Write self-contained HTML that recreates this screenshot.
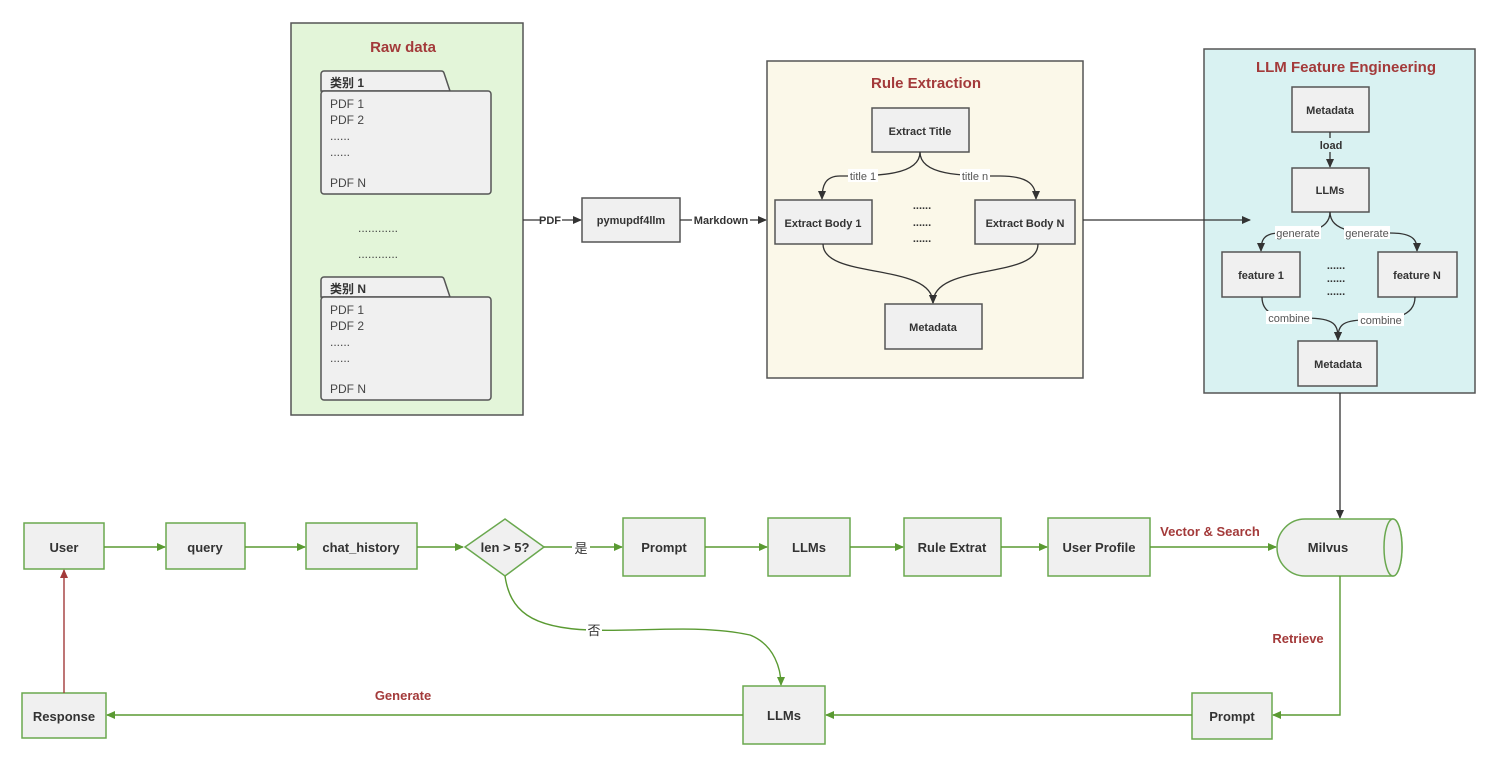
<!DOCTYPE html>
<html><head><meta charset="utf-8"><style>
html,body{margin:0;padding:0;background:#fff;}
svg{display:block;font-family:"Liberation Sans","Noto Sans CJK SC",sans-serif;}
.b{fill:#f0f0f0;stroke:#555;stroke-width:1.5}
.g{fill:#f0f0f0;stroke:#6aa84f;stroke-width:1.5}
.t{font-size:11px;font-weight:bold;fill:#333;text-anchor:middle}
.tg{font-size:13px;font-weight:bold;fill:#333;text-anchor:middle}
.h{font-size:15px;font-weight:bold;fill:#a33a3a;text-anchor:middle}
.r{font-size:13px;font-weight:bold;fill:#a33a3a;text-anchor:middle}
.l{font-size:11px;fill:#555;text-anchor:middle}
.k{stroke:#333;stroke-width:1.3;fill:none}
.gl{stroke:#5a9a32;stroke-width:1.4;fill:none}
.p{font-size:12px;fill:#444}
</style></head><body>
<svg width="1506" height="767" viewBox="0 0 1506 767">
<defs>
<marker id="ak" markerWidth="10" markerHeight="10" refX="8" refY="4" orient="auto" markerUnits="userSpaceOnUse"><path d="M0,0 L9,4 L0,8 z" fill="#333"/></marker>
<marker id="ag" markerWidth="10" markerHeight="10" refX="8" refY="4" orient="auto" markerUnits="userSpaceOnUse"><path d="M0,0 L9,4 L0,8 z" fill="#5a9a32"/></marker>
<marker id="ar" markerWidth="10" markerHeight="10" refX="8" refY="4" orient="auto" markerUnits="userSpaceOnUse"><path d="M0,0 L9,4 L0,8 z" fill="#a33a3a"/></marker>
</defs>

<!-- Raw data -->
<rect x="291" y="23" width="232" height="392" fill="#e3f5d9" stroke="#555" stroke-width="1.5"/>
<text x="403" y="52" class="h">Raw data</text>
<path d="M321,91 V74 a3,3 0 0 1 3,-3 H441 a3,3 0 0 1 3,2 L450,91 Z" class="b"/>
<rect x="321" y="91" width="170" height="103" rx="3" class="b"/>
<text x="330" y="87" font-size="12" font-weight="bold" fill="#333">类别 1</text>
<text class="p"><tspan x="330" y="108">PDF 1</tspan><tspan x="330" y="124">PDF 2</tspan><tspan x="330" y="140">......</tspan><tspan x="330" y="156">......</tspan><tspan x="330" y="187">PDF N</tspan></text>
<text x="378" y="232" font-size="12" fill="#444" text-anchor="middle">............</text>
<text x="378" y="258" font-size="12" fill="#444" text-anchor="middle">............</text>
<path d="M321,297 V280 a3,3 0 0 1 3,-3 H441 a3,3 0 0 1 3,2 L450,297 Z" class="b"/>
<rect x="321" y="297" width="170" height="103" rx="3" class="b"/>
<text x="330" y="293" font-size="12" font-weight="bold" fill="#333">类别 N</text>
<text class="p"><tspan x="330" y="314">PDF 1</tspan><tspan x="330" y="330">PDF 2</tspan><tspan x="330" y="346">......</tspan><tspan x="330" y="362">......</tspan><tspan x="330" y="393">PDF N</tspan></text>

<line x1="523" y1="220" x2="581" y2="220" class="k" marker-end="url(#ak)"/>
<rect x="540" y="213" width="22" height="14" fill="#fff"/>
<text x="550" y="224" class="t">PDF</text>
<rect x="582" y="198" width="98" height="44" class="b"/>
<text x="631" y="224" class="t">pymupdf4llm</text>
<line x1="680" y1="220" x2="766" y2="220" class="k" marker-end="url(#ak)"/>
<rect x="692" y="213" width="58" height="14" fill="#fff"/>
<text x="721" y="224" class="t">Markdown</text>

<!-- Rule Extraction -->
<rect x="767" y="61" width="316" height="317" fill="#fbf8e9" stroke="#555" stroke-width="1.5"/>
<text x="926" y="88" class="h">Rule Extraction</text>
<rect x="872" y="108" width="97" height="44" class="b"/>
<text x="920" y="135" class="t">Extract Title</text>
<path d="M920,152 C920,175 880,176 840,176 C825,176 822,186 822,199" class="k" marker-end="url(#ak)"/>
<path d="M920,152 C920,175 960,176 1000,176 C1030,176 1036,186 1036,199" class="k" marker-end="url(#ak)"/>
<rect x="848" y="169" width="30" height="13" fill="#fff"/><text x="863" y="180" class="l">title 1</text>
<rect x="960" y="169" width="30" height="13" fill="#fff"/><text x="975" y="180" class="l">title n</text>
<rect x="775" y="200" width="97" height="44" class="b"/>
<text x="823" y="227" class="t">Extract Body 1</text>
<rect x="975" y="200" width="100" height="44" class="b"/>
<text x="1025" y="227" class="t">Extract Body N</text>
<text x="922" y="209" class="t">......</text>
<text x="922" y="226" class="t">......</text>
<text x="922" y="242" class="t">......</text>
<path d="M823,244 C823,280 933,262 933,303" class="k" marker-end="url(#ak)"/>
<path d="M1038,244 C1038,280 933,262 933,303" class="k" marker-end="url(#ak)"/>
<rect x="885" y="304" width="97" height="45" class="b"/>
<text x="933" y="331" class="t">Metadata</text>

<!-- LLM FE -->
<rect x="1204" y="49" width="271" height="344" fill="#d9f2f2" stroke="#555" stroke-width="1.5"/>
<text x="1346" y="72" class="h">LLM Feature Engineering</text>
<line x1="1083" y1="220" x2="1250" y2="220" class="k" marker-end="url(#ak)"/>
<rect x="1292" y="87" width="77" height="45" class="b"/>
<text x="1330" y="114" class="t">Metadata</text>
<line x1="1330" y1="132" x2="1330" y2="167" class="k" marker-end="url(#ak)"/>
<rect x="1316" y="138" width="28" height="14" fill="#d9f2f2"/>
<text x="1331" y="149" class="t">load</text>
<rect x="1292" y="168" width="77" height="44" class="b"/>
<text x="1330" y="194" class="t">LLMs</text>
<path d="M1330,212 C1330,233 1300,233 1280,233 C1262,233 1261,242 1261,251" class="k" marker-end="url(#ak)"/>
<path d="M1330,212 C1330,233 1360,233 1390,233 C1416,233 1417,242 1417,251" class="k" marker-end="url(#ak)"/>
<rect x="1275" y="226" width="46" height="13" fill="#fff"/><text x="1298" y="237" class="l">generate</text>
<rect x="1344" y="226" width="46" height="13" fill="#fff"/><text x="1367" y="237" class="l">generate</text>
<rect x="1222" y="252" width="78" height="45" class="b"/>
<text x="1261" y="279" class="t">feature 1</text>
<rect x="1378" y="252" width="79" height="45" class="b"/>
<text x="1417" y="279" class="t">feature N</text>
<text x="1336" y="269" class="t" font-size="9">......</text>
<text x="1336" y="282" class="t" font-size="9">......</text>
<text x="1336" y="295" class="t" font-size="9">......</text>
<path d="M1262,297 C1262,318 1285,318 1305,318 C1336,318 1338,325 1338,340" class="k" marker-end="url(#ak)"/>
<path d="M1415,297 C1415,318 1390,320 1365,320 C1340,320 1338,327 1338,340" class="k" marker-end="url(#ak)"/>
<rect x="1266" y="311" width="46" height="13" fill="#fff"/><text x="1289" y="322" class="l">combine</text>
<rect x="1358" y="313" width="46" height="13" fill="#fff"/><text x="1381" y="324" class="l">combine</text>
<rect x="1298" y="341" width="79" height="45" class="b"/>
<text x="1338" y="368" class="t">Metadata</text>

<line x1="1340" y1="393" x2="1340" y2="518" class="k" marker-end="url(#ak)"/>

<!-- Bottom flow -->
<rect x="24" y="523" width="80" height="46" class="g"/><text x="64" y="552" class="tg">User</text>
<line x1="104" y1="547" x2="165" y2="547" class="gl" marker-end="url(#ag)"/>
<rect x="166" y="523" width="79" height="46" class="g"/><text x="205" y="552" class="tg">query</text>
<line x1="245" y1="547" x2="305" y2="547" class="gl" marker-end="url(#ag)"/>
<rect x="306" y="523" width="111" height="46" class="g"/><text x="361" y="552" class="tg">chat_history</text>
<line x1="417" y1="547" x2="463" y2="547" class="gl" marker-end="url(#ag)"/>
<path d="M505,519 L544,547 L505,576 L465,547 Z" class="g"/><text x="505" y="552" class="tg">len &gt; 5?</text>
<line x1="544" y1="547" x2="622" y2="547" class="gl" marker-end="url(#ag)"/>
<rect x="572" y="539" width="18" height="16" fill="#fff"/><text x="581" y="553" font-size="13" fill="#333" text-anchor="middle">是</text>
<rect x="623" y="518" width="82" height="58" class="g"/><text x="664" y="552" class="tg">Prompt</text>
<line x1="705" y1="547" x2="767" y2="547" class="gl" marker-end="url(#ag)"/>
<rect x="768" y="518" width="82" height="58" class="g"/><text x="809" y="552" class="tg">LLMs</text>
<line x1="850" y1="547" x2="903" y2="547" class="gl" marker-end="url(#ag)"/>
<rect x="904" y="518" width="97" height="58" class="g"/><text x="952" y="552" class="tg">Rule Extrat</text>
<line x1="1001" y1="547" x2="1047" y2="547" class="gl" marker-end="url(#ag)"/>
<rect x="1048" y="518" width="102" height="58" class="g"/><text x="1099" y="552" class="tg">User Profile</text>
<line x1="1150" y1="547" x2="1276" y2="547" class="gl" marker-end="url(#ag)"/>
<text x="1210" y="536" class="r">Vector &amp; Search</text>
<path d="M1305,519 H1393 A9,28.5 0 0 1 1393,576 H1305 A28,28.5 0 0 1 1305,519 Z" class="g"/>
<ellipse cx="1393" cy="547.5" rx="9" ry="28.5" class="g"/>
<text x="1328" y="552" class="tg">Milvus</text>

<path d="M505,576 C510,610 530,628 590,630 C640,632 700,624 750,635 C775,645 781,670 781,685" class="gl" marker-end="url(#ag)"/>
<rect x="586" y="622" width="16" height="16" fill="#fff"/><text x="594" y="635" font-size="13" fill="#333" text-anchor="middle">否</text>

<polyline points="1340,576 1340,715 1273,715" class="gl" marker-end="url(#ag)"/>
<text x="1298" y="643" class="r">Retrieve</text>
<rect x="1192" y="693" width="80" height="46" class="g"/><text x="1232" y="721" class="tg">Prompt</text>
<line x1="1192" y1="715" x2="826" y2="715" class="gl" marker-end="url(#ag)"/>
<rect x="743" y="686" width="82" height="58" class="g"/><text x="784" y="720" class="tg">LLMs</text>
<line x1="743" y1="715" x2="107" y2="715" class="gl" marker-end="url(#ag)"/>
<text x="403" y="700" class="r">Generate</text>
<rect x="22" y="693" width="84" height="45" class="g"/><text x="64" y="721" class="tg">Response</text>
<line x1="64" y1="693" x2="64" y2="570" stroke="#a33a3a" stroke-width="1.4" marker-end="url(#ar)"/>
</svg>
</body></html>
